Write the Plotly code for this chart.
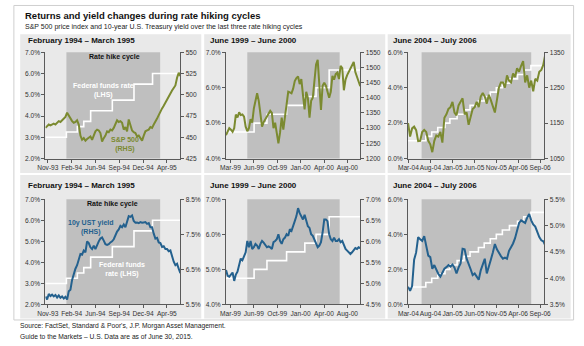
import pandas as pd
import plotly.graph_objects as go

W, H = 584, 346

# ---------------- data ----------------
# Cycle A: February 1994 - March 1995 (weekly, from 1993-11-08)
a_start = "1993-11-08"
a_sp500 = [461, 463, 465, 464, 465, 466, 465, 467, 469, 468,
           470, 471, 474, 479, 475, 471, 469, 467, 468, 470,
           465, 452, 447, 449, 446, 448, 450, 451, 447, 452,
           457, 459, 458, 455, 445, 449, 452, 457, 456, 459,
           458, 461, 465, 470, 468, 469, 467, 459, 462, 457,
           471, 465, 458, 456, 455, 451, 452, 449, 446, 452,
           457, 458, 459, 462, 461, 465, 468, 472, 476, 481,
           484, 487, 491, 495, 499, 503, 505, 508, 511, 520,
           526, 522]
a_ust10 = [5.73, 5.64, 5.80, 5.74, 5.78, 5.73, 5.77, 5.70, 5.76, 5.69,
           5.73, 5.67, 5.72, 5.64, 5.88, 5.92, 6.20, 6.38, 6.52, 6.62,
           6.80, 6.94, 6.92, 7.04, 6.99, 7.30, 7.25, 7.13, 7.08, 7.18,
           7.08, 7.22, 7.30, 7.38, 7.41, 7.32, 7.22, 7.20, 7.22, 7.27,
           7.30, 7.36, 7.50, 7.58, 7.64, 7.74, 7.70, 7.78, 7.70, 7.83,
           8.02, 8.00, 8.04, 7.88, 7.83, 7.84, 7.82, 7.85, 7.83, 7.84,
           7.85, 7.80, 7.82, 7.70, 7.70, 7.52, 7.38, 7.40, 7.27, 7.25,
           7.14, 7.16, 7.08, 7.08, 7.02, 7.04, 6.85, 6.72, 6.62, 6.66,
           6.52, 6.39]
a_ff_dates = ["1993-11-08", "1994-02-04", "1994-03-22", "1994-04-18", "1994-05-17",
              "1994-08-16", "1994-11-15", "1995-02-01", "1995-05-29"]
a_ff = [3.0, 3.25, 3.5, 3.75, 4.25, 4.75, 5.5, 6.0, 6.0]
a_range = ["1993-11-08", "1995-05-29"]
a_shade = ["1994-02-04", "1995-03-05"]
a_ticks = ["1993-11-18", "1994-02-26", "1994-06-06", "1994-09-14", "1994-12-23", "1995-04-02"]
a_ticktext = ["Nov-93", "Feb-94", "Jun-94", "Sep-94", "Dec-94", "Apr-95"]

# Cycle B: June 1999 - June 2000 (weekly, from 1999-03-02)
b_start = "1999-03-02"
b_sp500 = [1277, 1290, 1300, 1295, 1288, 1300, 1345, 1335, 1352, 1343,
           1345, 1338, 1305, 1290, 1300, 1330, 1318, 1365, 1395, 1415,
           1390, 1345, 1305, 1320, 1330, 1340, 1350, 1357, 1350, 1300,
           1318, 1290, 1250, 1285, 1335, 1295, 1340, 1395, 1420, 1418,
           1415, 1430, 1455, 1465, 1470, 1445, 1462, 1410, 1362, 1420,
           1400, 1335, 1390, 1400, 1460, 1510, 1525, 1450, 1360, 1440,
           1450, 1440, 1420, 1400, 1420, 1472, 1460, 1478, 1483, 1462,
           1505, 1498, 1425, 1460, 1475, 1485, 1495, 1510, 1518, 1485,
           1470, 1450, 1438]
b_ust10 = [5.32, 5.18, 5.16, 5.20, 5.26, 5.06, 5.21, 5.28, 5.43, 5.59,
           5.55, 5.66, 5.74, 6.01, 5.86, 6.01, 5.82, 5.86, 5.94, 5.90,
           5.82, 5.94, 6.01, 5.97, 5.90, 5.86, 5.88, 5.86, 5.82, 5.98,
           6.01, 6.05, 6.17, 6.01, 5.94, 6.05, 6.09, 6.17, 6.13, 6.29,
           6.25, 6.40, 6.48, 6.60, 6.79, 6.67, 6.60, 6.52, 6.63, 6.46,
           6.36, 6.32, 6.17, 6.13, 6.05, 5.94, 5.86, 5.90, 5.98, 6.21,
           6.52, 6.52, 6.48, 6.17, 6.05, 6.01, 6.09, 6.01, 6.01, 6.05,
           5.98, 6.01, 5.90, 5.82, 5.78, 5.74, 5.70, 5.74, 5.78, 5.84,
           5.82, 5.86, 5.84]
b_ff_dates = ["1999-03-02", "1999-06-30", "1999-08-24", "1999-11-16", "2000-02-02",
              "2000-03-21", "2000-05-16", "2000-09-27"]
b_ff = [4.75, 5.0, 5.25, 5.5, 5.75, 6.0, 6.5, 6.5]
b_range = ["1999-03-02", "2000-09-27"]
b_shade = ["1999-06-01", "2000-06-30"]
b_ticks = ["1999-03-21", "1999-06-29", "1999-10-07", "2000-01-15", "2000-04-24", "2000-08-02"]
b_ticktext = ["Mar-99", "Jun-99", "Oct-99", "Jan-00", "Apr-00", "Aug-00"]

# Cycle C: June 2004 - July 2006 (biweekly, from 2004-02-28)
c_start = "2004-02-28"
c_sp500 = [1150, 1112, 1135, 1140, 1130, 1099, 1100, 1125, 1131, 1125,
           1100, 1090, 1068, 1100, 1115, 1112, 1125, 1095, 1165, 1175,
           1190, 1195, 1210, 1180, 1172, 1200, 1210, 1220, 1175, 1180,
           1145, 1165, 1190, 1195, 1210, 1195, 1225, 1235, 1225, 1205,
           1230, 1215, 1195, 1180, 1215, 1250, 1265, 1265, 1250, 1285,
           1270, 1265, 1290, 1280, 1305, 1295, 1312, 1325, 1265, 1285,
           1250, 1270, 1240, 1275, 1270, 1295, 1300, 1315, 1345]
c_ust10 = [3.84, 3.76, 3.85, 4.35, 4.49, 4.78, 4.74, 4.71, 4.80, 4.58,
           4.43, 4.40, 4.18, 4.25, 4.15, 4.08, 4.03, 4.10, 4.18, 4.21,
           4.25, 4.22, 4.26, 4.20, 4.09, 4.20, 4.28, 4.56, 4.55, 4.37,
           4.28, 4.17, 4.06, 4.09, 4.03, 3.97, 4.15, 4.25, 4.37, 4.09,
           4.20, 4.35, 4.49, 4.65, 4.55, 4.48, 4.42, 4.37, 4.39, 4.37,
           4.52, 4.59, 4.66, 4.76, 4.90, 5.05, 5.10, 5.08, 5.05, 5.15,
           5.22, 5.10, 5.02, 4.98, 4.88, 4.78, 4.72, 4.70, 4.62]
c_ff_dates = ["2004-02-28", "2004-06-30", "2004-08-10", "2004-09-21", "2004-11-10",
              "2004-12-14", "2005-02-02", "2005-03-22", "2005-05-03", "2005-06-30",
              "2005-08-09", "2005-09-20", "2005-11-01", "2005-12-13", "2006-01-31",
              "2006-03-28", "2006-05-10", "2006-06-29", "2006-10-01"]
c_ff = [1.0, 1.25, 1.5, 1.75, 2.0, 2.25, 2.5, 2.75, 3.0, 3.25,
        3.5, 3.75, 4.0, 4.25, 4.5, 4.75, 5.0, 5.25, 5.25]
c_range = ["2004-02-28", "2006-10-01"]
c_shade = ["2004-06-01", "2006-07-01"]
c_ticks = ["2004-03-01", "2004-08-01", "2005-01-01", "2005-06-01", "2005-11-01",
           "2006-04-01", "2006-09-01"]
c_ticktext = ["Mar-04", "Aug-04", "Jan-05", "Jun-05", "Nov-05", "Apr-06", "Sep-06"]

headers = ["February 1994 \u2013 March 1995", "June 1999 \u2013 June 2000", "June 2004 \u2013 July 2006"]

# axis scales (left: fed funds %, right: S&P or 10y %)
top_left_axes = [(2, 7, 1), (4, 7, 1), (0, 6, 2)]
top_right_axes = [(425, 550, 25), (1200, 1550, 50), (1050, 1350, 100)]
bot_left_axes = [(2, 7, 1), (4, 7, 1), (0, 6, 2)]
bot_right_axes = [(5.5, 8.5, 1), (4.5, 7.0, 0.5), (3.5, 5.5, 0.5)]

# ---------------- styling / layout ----------------
FONT = "Arial, Liberation Sans, sans-serif"
OLIVE = "#7b8a30"
BLUE = "#24618e"
AXIS = "#5a5a5a"
PANEL = "#e9e9e9"
SHADE = "#bfbfbf"

plot_x = [(36.5, 175.5), (222.5, 361.0), (410.0, 550.5)]
plot_y = [(49.3, 157.7), (199.3, 306.7)]
panel_x = [(10.5, 197.0), (200.0, 386.5), (389.0, 577.5)]
panel_y = [(31.0, 172.5), (174.5, 321.0)]
header_x = [16, 204, 392]
header_y = [37, 185]


def px(x):
    return x / W


def py(y):
    return 1 - y / H


fig = go.Figure()
layout = dict(width=W, height=H, margin=dict(l=0, r=0, t=0, b=0),
              paper_bgcolor="white", plot_bgcolor="rgba(0,0,0,0)",
              showlegend=False, font=dict(family=FONT, color="#333333"))
shapes = []
annotations = []

# outer border
shapes.append(dict(type="rect", xref="paper", yref="paper", x0=px(4), x1=px(580.5),
                   y0=py(322.5), y1=py(1.5), line=dict(color="#cfcfcf", width=1),
                   fillcolor="rgba(0,0,0,0)", layer="below"))
for r in range(2):
    for c in range(3):
        shapes.append(dict(type="rect", xref="paper", yref="paper",
                           x0=px(panel_x[c][0]), x1=px(panel_x[c][1]),
                           y0=py(panel_y[r][1]), y1=py(panel_y[r][0]),
                           fillcolor=PANEL, line=dict(width=0), layer="below"))

cycles = [
    dict(start=a_start, freq="7D", sp=a_sp500, ust=a_ust10, ffd=a_ff_dates, ff=a_ff,
         rng=a_range, shade=a_shade, ticks=a_ticks, tt=a_ticktext),
    dict(start=b_start, freq="7D", sp=b_sp500, ust=b_ust10, ffd=b_ff_dates, ff=b_ff,
         rng=b_range, shade=b_shade, ticks=b_ticks, tt=b_ticktext),
    dict(start=c_start, freq="14D", sp=c_sp500, ust=c_ust10, ffd=c_ff_dates, ff=c_ff,
         rng=c_range, shade=c_shade, ticks=c_ticks, tt=c_ticktext),
]

tickfont = dict(family=FONT, size=6.6, color="#333333")


def yaxis_cfg(rng, side, fmt, suffix, domain=None, overlay=None, anchor=None):
    lo, hi, dt = rng
    cfg = dict(range=[lo, hi], tick0=lo, dtick=dt, tickformat=fmt, ticksuffix=suffix,
               showline=True, linecolor=AXIS, linewidth=1, ticks="outside", ticklen=3,
               tickcolor=AXIS, tickwidth=1, showgrid=False, zeroline=False,
               tickfont=tickfont, side=side, anchor=anchor, fixedrange=True)
    if domain is not None:
        cfg["domain"] = domain
    if overlay is not None:
        cfg["overlaying"] = overlay
    return cfg


for r in range(2):
    for c in range(3):
        i = r * 3 + c + 1
        cy = cycles[c]
        xname = "x" if i == 1 else f"x{i}"
        yl = 2 * i - 1
        yr = 2 * i
        ylname = "y" if yl == 1 else f"y{yl}"
        yrname = f"y{yr}"
        xkey = "xaxis" if i == 1 else f"xaxis{i}"
        ylkey = "yaxis" if yl == 1 else f"yaxis{yl}"
        yrkey = f"yaxis{yr}"
        xd = [px(plot_x[c][0]), px(plot_x[c][1])]
        yd = [py(plot_y[r][1]), py(plot_y[r][0])]
        layout[xkey] = dict(domain=xd, anchor=ylname, type="date", range=cy["rng"],
                            tickvals=cy["ticks"], ticktext=cy["tt"], tickangle=0,
                            showline=True, linecolor=AXIS, linewidth=1, ticks="outside",
                            ticklen=3, tickcolor=AXIS, showgrid=False, zeroline=False,
                            tickfont=tickfont, fixedrange=True)
        if r == 0:
            la, ra = top_left_axes[c], top_right_axes[c]
            layout[ylkey] = yaxis_cfg(la, "left", ".1f", "%", domain=yd, anchor=xname)
            layout[yrkey] = yaxis_cfg(ra, "right", "d", "", overlay=ylname, anchor=xname)
            series, color = cy["sp"], OLIVE
        else:
            la, ra = bot_left_axes[c], bot_right_axes[c]
            layout[ylkey] = yaxis_cfg(la, "left", ".1f", "%", domain=yd, anchor=xname)
            layout[yrkey] = yaxis_cfg(ra, "right", ".1f", "%", overlay=ylname, anchor=xname)
            series, color = cy["ust"], BLUE

        # shaded rate hike cycle
        shapes.append(dict(type="rect", xref=xname, yref=f"{ylname} domain",
                           x0=cy["shade"][0], x1=cy["shade"][1], y0=0, y1=1,
                           fillcolor=SHADE, line=dict(width=0), layer="below"))
        # fed funds rate (step)
        fig.add_trace(go.Scatter(x=pd.to_datetime(cy["ffd"]), y=cy["ff"], mode="lines",
                                 line=dict(color="white", width=1.6, shape="hv"),
                                 xaxis=xname, yaxis=ylname, hoverinfo="skip"))
        dates = pd.date_range(cy["start"], periods=len(series), freq=cy["freq"])
        fig.add_trace(go.Scatter(x=dates, y=series, mode="lines",
                                 line=dict(color=color, width=2),
                                 xaxis=xname, yaxis=yrname, hoverinfo="skip"))

        annotations.append(dict(text=f"<b>{headers[c]}</b>", xref="paper", yref="paper",
                                x=px(header_x[c]), y=py(header_y[r]), xanchor="left",
                                yanchor="middle", showarrow=False,
                                font=dict(family=FONT, size=8, color="#111111")))


def note(text, x, y, color, size=7):
    annotations.append(dict(text=text, xref="paper", yref="paper", x=px(x), y=py(y),
                            xanchor="center", yanchor="middle", showarrow=False,
                            align="center", font=dict(family=FONT, size=size, color=color)))


note("<b>Rate hike cycle</b>", 107.3, 54, "#111111")
note("<b>Federal funds rate<br>(LHS)</b>", 96.7, 88, "white")
note("<b>S&P 500<br>(RHS)</b>", 118.3, 143, OLIVE)
note("<b>Rate hike cycle</b>", 106, 204.3, "#111111")
note("<b>10y UST yield<br>(RHS)</b>", 83.3, 228, BLUE)
note("<b>Federal funds<br>rate (LHS)</b>", 115, 271, "white")

annotations.append(dict(text="<b>Returns and yield changes during rate hiking cycles</b>",
                        xref="paper", yref="paper", x=px(13), y=py(12), xanchor="left",
                        yanchor="middle", showarrow=False,
                        font=dict(family=FONT, size=9.5, color="#111111")))
annotations.append(dict(text="S&P 500 price index and 10-year U.S. Treasury yield over the last three rate hiking cycles",
                        xref="paper", yref="paper", x=px(13), y=py(23.5), xanchor="left",
                        yanchor="middle", showarrow=False,
                        font=dict(family=FONT, size=7, color="#222222")))
annotations.append(dict(text="Source: FactSet, Standard & Poor's, J.P. Morgan Asset Management.",
                        xref="paper", yref="paper", x=px(8), y=py(328.5), xanchor="left",
                        yanchor="middle", showarrow=False,
                        font=dict(family=FONT, size=6.7, color="#222222")))
annotations.append(dict(text="Guide to the Markets \u2013 U.S. Data are as of June 30, 2015.",
                        xref="paper", yref="paper", x=px(8), y=py(339), xanchor="left",
                        yanchor="middle", showarrow=False,
                        font=dict(family=FONT, size=6.7, color="#222222")))

layout["shapes"] = shapes
layout["annotations"] = annotations
fig.update_layout(**layout)
fig.write_html("out.html", config={"displayModeBar": False})
